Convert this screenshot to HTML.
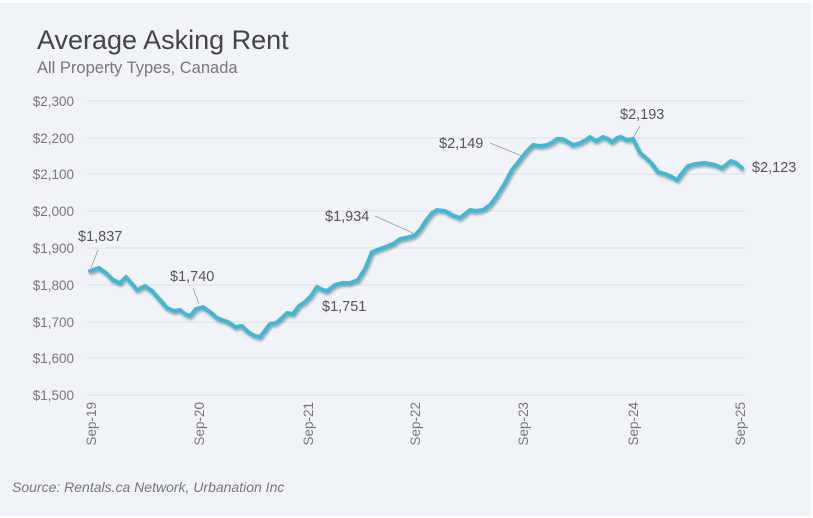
<!DOCTYPE html>
<html><head><style>
body{margin:0;background:#fff;}
svg{display:block;font-family:"Liberation Sans",sans-serif;}
</style></head><body>
<svg width="813" height="518" viewBox="0 0 813 518">
<defs><filter id="sh" x="-5%" y="-5%" width="110%" height="120%"><feDropShadow dx="1" dy="2" stdDeviation="1.2" flood-color="#000" flood-opacity="0.35"/></filter></defs>
<rect x="0" y="3" width="811" height="513" fill="#f0f3f8"/>
<text x="37" y="49" font-size="27" fill="#444">Average Asking Rent</text>
<text x="37" y="73" font-size="16.5" fill="#777">All Property Types, Canada</text>
<g stroke="#dcdfe4" stroke-width="1">
<line x1="87" x2="745" y1="101" y2="101"/><line x1="87" x2="745" y1="138" y2="138"/><line x1="87" x2="745" y1="174" y2="174"/><line x1="87" x2="745" y1="211" y2="211"/><line x1="87" x2="745" y1="248" y2="248"/><line x1="87" x2="745" y1="285" y2="285"/><line x1="87" x2="745" y1="322" y2="322"/><line x1="87" x2="745" y1="358" y2="358"/><line x1="87" x2="745" y1="395" y2="395"/>
</g>
<g font-size="13.5" fill="#777" text-anchor="end">
<text x="74" y="106">$2,300</text><text x="74" y="143">$2,200</text><text x="74" y="179">$2,100</text><text x="74" y="216">$2,000</text><text x="74" y="253">$1,900</text><text x="74" y="290">$1,800</text><text x="74" y="327">$1,700</text><text x="74" y="363">$1,600</text><text x="74" y="400">$1,500</text>
</g>
<g font-size="13.5" fill="#777" text-anchor="end">
<text transform="translate(96,402) rotate(-90)">Sep-19</text>
<text transform="translate(204,402) rotate(-90)">Sep-20</text>
<text transform="translate(313,402) rotate(-90)">Sep-21</text>
<text transform="translate(420,402) rotate(-90)">Sep-22</text>
<text transform="translate(528,402) rotate(-90)">Sep-23</text>
<text transform="translate(638,402) rotate(-90)">Sep-24</text>
<text transform="translate(745,402) rotate(-90)">Sep-25</text>
</g>
<g stroke="#999" stroke-width="0.8" fill="none">
<line x1="98" y1="250" x2="91" y2="268"/>
<line x1="193" y1="288" x2="199" y2="304"/>
<line x1="375" y1="216" x2="413" y2="233"/>
<line x1="490" y1="143" x2="522" y2="156"/>
<line x1="640" y1="126" x2="633" y2="138"/>
</g>
<polyline filter="url(#sh)" fill="none" stroke="#42b7d3" stroke-width="4" stroke-linejoin="round" stroke-linecap="round" points="90,271 99,268 106,273 113,280 120,283 126,277 132,284 137,290 145,286 152,291 160,300 167,308 174,311 180,310 185,314 190,316 196,309 203,307 210,312 217,318 222,320 228,322 235,327 242,326 248,332 255,336 260,337 264,332 270,324 276,323 282,318 287,313 293,314 299,306 305,302 311,296 317,287 323,290 327,291 335,285 342,283 350,283 358,280 365,269 372,252 380,249 388,246 393,244 400,239 405,238 410,237 415,235 420,230 425,222 432,213 437,210 445,211 452,215 460,218 465,214 470,210 475,211 483,210 490,205 497,196 505,183 512,170 520,160 527,151 533,145 540,146 547,145 553,142 557,139 562,139 568,142 573,145 580,143 586,140 590,137 596,141 603,137 608,139 612,142 617,138 621,137 627,140 633,139 640,153 646,158 652,164 658,172 665,174 672,177 677,180 683,172 688,166 695,164 705,163 715,165 722,168 727,164 731,161 736,163 742,168"/>
<g font-size="14.5" fill="#555">
<text x="78" y="241">$1,837</text>
<text x="170" y="281">$1,740</text>
<text x="322" y="311">$1,751</text>
<text x="325" y="221">$1,934</text>
<text x="439" y="148">$2,149</text>
<text x="620" y="119">$2,193</text>
<text x="752" y="172">$2,123</text>
</g>
<text x="12" y="492" font-size="14" font-style="italic" fill="#777">Source: Rentals.ca Network, Urbanation Inc</text>
</svg>
</body></html>
